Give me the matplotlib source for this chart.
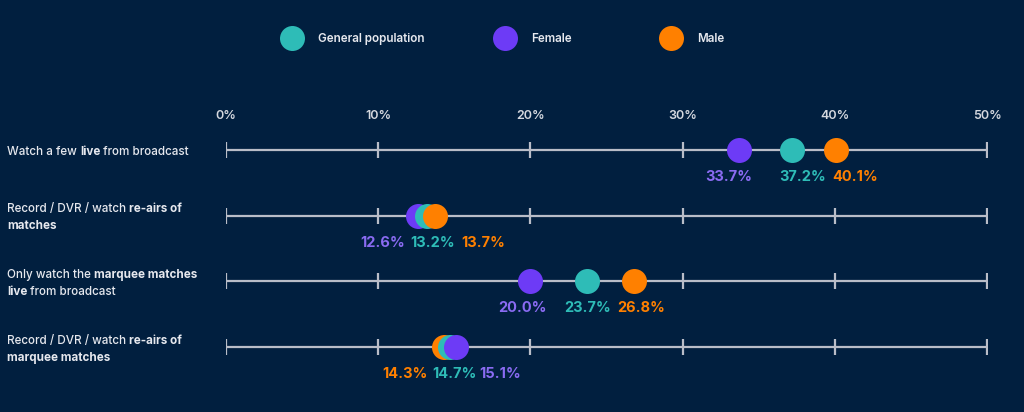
import numpy as np
import matplotlib.pyplot as plt

plt.rcParams['font.family'] = ['Inter', 'DejaVu Sans']

# data
series = ['General population', 'Female', 'Male']
general = [37.2, 13.2, 23.7, 14.7]
female = [33.7, 12.6, 20.0, 15.1]
male = [40.1, 13.7, 26.8, 14.3]
ticks = [0, 10, 20, 30, 40, 50]

# category labels: lines of (text, bold) segments
categories = [
    [[('Watch a few ', False), ('live', True), (' from broadcast', False)]],
    [[('Record / DVR / watch ', False), ('re-airs of', True)],
     [('matches', True)]],
    [[('Only watch the ', False), ('marquee matches', True)],
     [('live', True), (' from broadcast', False)]],
    [[('Record / DVR / watch ', False), ('re-airs of', True)],
     [('marquee matches', True)]],
]

# style
bg = '#011f3f'
dot_colors = ['#2ebcb7', '#6d3bf6', '#ff8000']
lab_colors = ['#2ebcb7', '#8a6bf2', '#ff8000']
line_col = '#b9bdc8'
text_col = '#e6e8ee'
# horizontal label shifts in pixels (general, female, male) per row
label_dx = [[10, -10, 19], [6, -35, 49], [1, -8, 7], [5, 44, -39]]

W, H = 1024, 412
fig = plt.figure(figsize=(W / 100, H / 100), dpi=100, facecolor=bg)

step = 65.67
top_px = 150 - step / 2
ax = fig.add_axes([226 / W, 1 - (top_px + 4 * step) / H, 761 / W, 4 * step / H])
ax.set_facecolor(bg)
ax.set_xlim(0, 50)
ax.set_ylim(3.5, -0.5)
ax.axis('off')

rows = np.arange(len(categories))
for r in rows:
    ax.plot([ticks[0], ticks[-1]], [r, r], color=line_col, lw=1.6, zorder=1,
            solid_capstyle='butt')
    ax.plot(ticks, [r] * len(ticks), ls='none', marker='|', ms=12, mew=1.6,
            color=line_col, zorder=1)

for t in ticks:
    ax.text(t, -0.52, f'{t}%', ha='center', va='center', color='#d5d8df',
            fontsize=9, fontweight='semibold')

values = [general, female, male]
for r in rows:
    row_vals = [v[r] for v in values]
    order = np.argsort(row_vals)
    for rank, i in enumerate(order):
        ax.plot(row_vals[i], r, 'o', ms=18, color=dot_colors[i], mew=0,
                zorder=3 + rank)
        ax.annotate(f'{row_vals[i]:.1f}%', xy=(row_vals[i], r),
                    xytext=(label_dx[r][i] * 0.72, -19.5), textcoords='offset points',
                    ha='center', va='center', color=lab_colors[i],
                    fontsize=10.5, fontweight='bold')

# category labels
line_h = 17
fs = 8.4
for r, lines in enumerate(categories):
    yc = top_px + (r + 0.5) * step + 2
    n = len(lines)
    for k, segs in enumerate(lines):
        y = yc + (k - (n - 1) / 2) * line_h
        prev = None
        for txt, bold in segs:
            w = 'bold' if bold else 'medium'
            if prev is None:
                prev = fig.text(7 / W, 1 - y / H, txt, ha='left', va='center',
                                color=text_col, fontsize=fs, fontweight=w)
            else:
                prev = ax.annotate(txt, xy=(1, 0), xycoords=prev, ha='left',
                                   va='bottom', color=text_col, fontsize=fs,
                                   fontweight=w, annotation_clip=False)

# legend
leg_x = [292, 505, 671]
for i, name in enumerate(series):
    fig.lines.append(plt.Line2D([leg_x[i] / W], [1 - 38 / H], marker='o', ms=18,
                                color=dot_colors[i], mew=0, transform=fig.transFigure))
    fig.text((leg_x[i] + 26) / W, 1 - 39 / H, name, ha='left', va='center',
             color=text_col, fontsize=8.4, fontweight='semibold')

fig.savefig('out.png', dpi=100, facecolor=bg)
